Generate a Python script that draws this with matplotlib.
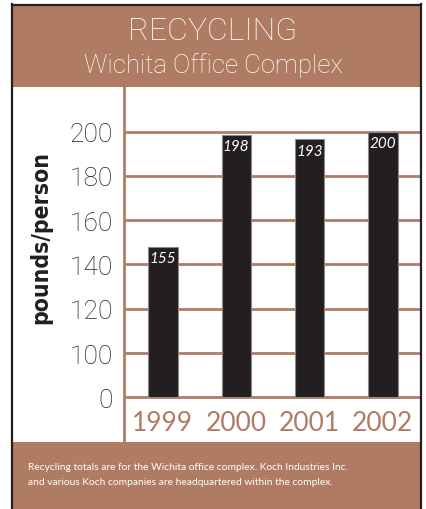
import matplotlib
matplotlib.use('Agg')
import matplotlib.pyplot as plt
from matplotlib.patches import Rectangle
from matplotlib.lines import Line2D

# data
years = ["1999", "2000", "2001", "2002"]
bar_heights = [148, 198.5, 196.5, 200]      # drawn bar tops (axis units)
bar_labels = ["155", "198", "193", "200"]   # printed values
tick_values = [0, 100, 120, 140, 160, 180, 200]

BROWN = '#b07b63'
INK = '#231f20'
W, H = 427, 510
LIGHT = ['Roboto', 'DejaVu Sans']

plt.rcParams['font.family'] = ['Lato', 'DejaVu Sans']


def pos(v):
    # broken axis: 0..100 squeezed into one 20-unit band
    return v if v >= 100 else 80 + v * 0.2


def px(x0, y0, x1, y1):
    # pixel box (top-left origin) -> figure fraction rect
    return [x0 / W, 1 - y1 / H, (x1 - x0) / W, (y1 - y0) / H]


fig = plt.figure(figsize=(W / 100, H / 100), dpi=100)
fig.patch.set_facecolor('white')

# header / footer bands
for y0, y1 in [(6, 88), (443, 510)]:
    r = px(12, y0, 421, y1)
    fig.patches.append(Rectangle((r[0], r[1]), r[2], r[3], transform=fig.transFigure,
                                 facecolor=BROWN, edgecolor='none', zorder=0))

# dark frame
for xs, ys in [([12, 12], [5, 510]), ([12, 421], [5.5, 5.5]), ([421, 421], [5, 510])]:
    fig.lines.append(Line2D([x / W for x in xs], [1 - y / H for y in ys],
                            transform=fig.transFigure, color=INK, lw=1.6))

fig.text(213 / W, 1 - 31 / H, "RECYCLING", color='white', fontsize=23,
         fontweight='light', family=LIGHT, ha='center', va='center')
fig.text(213 / W, 1 - 73 / H, "Wichita Office Complex", color='white', fontsize=18.5,
         fontweight='light', family=LIGHT, ha='center', va='baseline')

fig.text(28 / W, 1 - 468 / H, "Recycling totals are for the Wichita office complex. Koch Industries Inc.",
         color='white', fontsize=7.4, ha='left', va='center')
fig.text(28 / W, 1 - 483 / H, "and various Koch companies are headquartered within the complex.",
         color='white', fontsize=7.4, ha='left', va='center')

# plot area
ax = fig.add_axes(px(124, 88, 421, 443))
ax.set_facecolor('none')
x = list(range(len(years)))
ax.set_xlim(-0.53, 3.52)
ax.set_ylim(59.8, 220.2)

tick_pos = [pos(v) for v in tick_values]
for t in tick_pos:
    ax.axhline(t, color=BROWN, lw=2, zorder=1)

ax.bar(x, [pos(h) - 80 for h in bar_heights], bottom=80, width=0.4,
       color=INK, edgecolor='#8a8a8a', linewidth=0.8, zorder=3)

for i, (h, lab) in enumerate(zip(bar_heights, bar_labels)):
    ax.annotate(lab, (i, pos(h)), xytext=(0, -3), textcoords='offset points',
                ha='center', va='top', color='white', fontsize=11, style='italic', zorder=4)

for i, yr in enumerate(years):
    ax.text(i, 68.8, yr, ha='center', va='center', color=BROWN, fontsize=19)

ax.set_yticks(tick_pos)
ax.set_yticklabels([str(v) for v in tick_values], fontsize=19, color='#222222',
                   fontweight='light', family=LIGHT)
ax.tick_params(axis='y', length=0, pad=8)
ax.set_xticks([])
for s in ['top', 'right', 'bottom']:
    ax.spines[s].set_visible(False)
ax.spines['left'].set_color(BROWN)
ax.spines['left'].set_linewidth(2)

fig.text(41 / W, 1 - 237 / H, "pounds/person", rotation=90, ha='center', va='center',
         fontsize=16.5, fontweight='bold', fontstretch='condensed', color=INK,
         family=['DejaVu Sans'])

fig.savefig('out.png', dpi=100)
